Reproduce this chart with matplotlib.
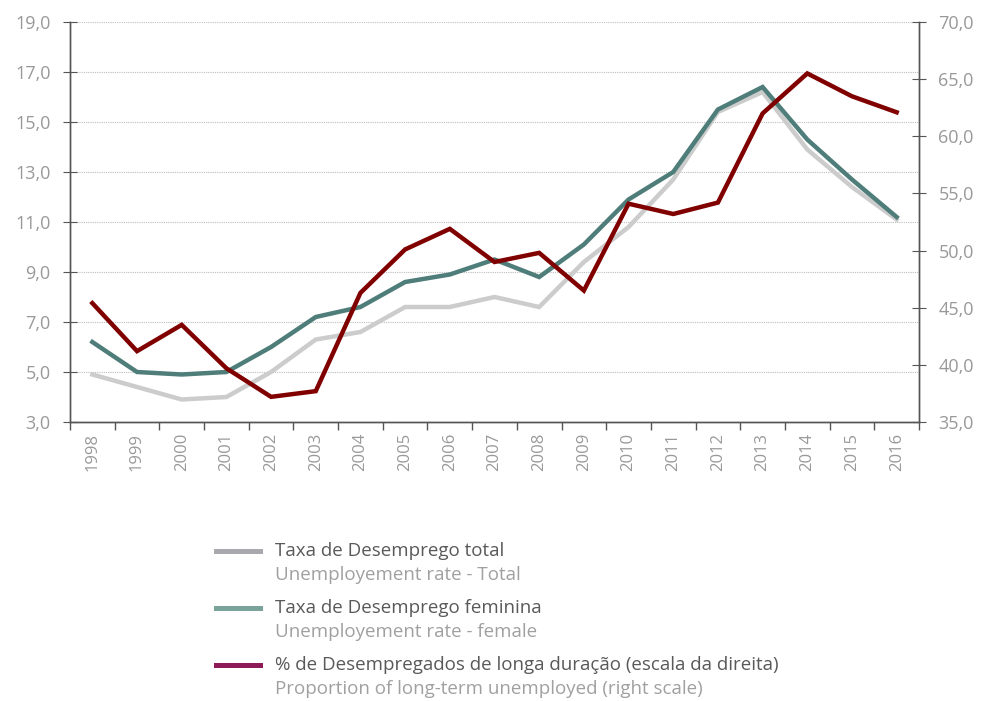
import matplotlib.pyplot as plt
from matplotlib.lines import Line2D
from matplotlib.ticker import FuncFormatter, FixedLocator

years = [str(y) for y in range(1998, 2017)]

# taxa de desemprego total (left scale)
total = [4.9, 4.4, 3.9, 4.0, 5.0, 6.3, 6.6, 7.6, 7.6, 8.0,
         7.6, 9.4, 10.8, 12.7, 15.4, 16.2, 13.9, 12.4, 11.1]
# taxa de desemprego feminina (left scale)
female = [6.2, 5.0, 4.9, 5.0, 6.0, 7.2, 7.6, 8.6, 8.9, 9.5,
          8.8, 10.1, 11.9, 13.0, 15.5, 16.4, 14.3, 12.7, 11.2]
# % desempregados de longa duracao (right scale)
long_term = [45.4, 41.2, 43.5, 39.7, 37.2, 37.7, 46.3, 50.1, 51.9, 49.0,
             49.8, 46.5, 54.1, 53.2, 54.2, 62.0, 65.5, 63.5, 62.1]

legend_main = ["Taxa de Desemprego total",
               "Taxa de Desemprego feminina",
               "% de Desempregados de longa duração (escala da direita)"]
legend_sub = ["Unemployement rate - Total",
              "Unemployement rate - female",
              "Proportion of long-term unemployed (right scale)"]
legend_colors = ["#a8a8ae", "#7aa39b", "#8e1b57"]

plt.rcParams['font.family'] = ['Open Sans', 'DejaVu Sans']

TICK_COL = "#999999"
AX_COL = "#555555"


def comma(v, pos):
    return f"{v:.1f}".replace(".", ",")


def main():
    fig = plt.figure(figsize=(9.82, 7.01), dpi=100)
    ax = fig.add_axes([70 / 982, 1 - 422 / 701, 849 / 982, 400 / 701])
    ax2 = ax.twinx()

    x = list(range(len(years)))
    ax.plot(x, total, color="#cccccc", lw=3.2, solid_joinstyle="miter", zorder=3)
    ax.plot(x, female, color="#4f7d79", lw=3.2, solid_joinstyle="miter", zorder=4)
    ax2.plot(x, long_term, color="#800000", lw=3.2, solid_joinstyle="miter", zorder=5)

    ax.set_xlim(-0.5, len(years) - 0.5)
    ax.set_ylim(3, 19)
    ax2.set_ylim(35, 70)

    ax.set_yticks([3, 5, 7, 9, 11, 13, 15, 17, 19])
    ax2.set_yticks([35, 40, 45, 50, 55, 60, 65, 70])
    ax.yaxis.set_major_formatter(FuncFormatter(comma))
    ax2.yaxis.set_major_formatter(FuncFormatter(comma))

    ax.grid(axis="y", color="#bdbdbd", linestyle=(0, (1, 1)), lw=0.8)
    ax.set_axisbelow(True)

    # year labels centred, ticks between categories
    ax.set_xticks(x)
    ax.set_xticklabels(years, rotation=90)
    ax.tick_params(axis="x", which="major", length=0, pad=8,
                   labelsize=12, labelcolor=TICK_COL)
    ax.xaxis.set_minor_locator(FixedLocator([i + 0.5 for i in range(-1, len(years))]))
    ax.tick_params(axis="x", which="minor", direction="out", length=6,
                   color=AX_COL, width=1)

    ax.tick_params(axis="y", direction="inout", length=10, color=AX_COL,
                   labelsize=13, labelcolor=TICK_COL, pad=9)
    ax2.tick_params(axis="y", direction="inout", length=10, color=AX_COL,
                    labelsize=13, labelcolor=TICK_COL, pad=9)

    for a in (ax, ax2):
        a.spines["top"].set_visible(False)
        for s in ("left", "right", "bottom"):
            a.spines[s].set_color(AX_COL)
            a.spines[s].set_linewidth(1)

    # legend drawn by hand: main label + english subtitle
    y0 = 1 - 551 / 701
    step = 57 / 701
    for i in range(3):
        yy = y0 - i * step
        fig.add_artist(Line2D([216 / 982, 260 / 982], [yy, yy],
                              color=legend_colors[i], lw=3.6,
                              transform=fig.transFigure))
        fig.text(275 / 982, yy, legend_main[i], fontsize=13.5,
                 color="#595959", va="center", ha="left")
        fig.text(275 / 982, yy - 24 / 701, legend_sub[i], fontsize=13.5,
                 color="#a0a0a0", va="center", ha="left")

    fig.savefig("out.png", dpi=100)


if __name__ == "__main__":
    main()
